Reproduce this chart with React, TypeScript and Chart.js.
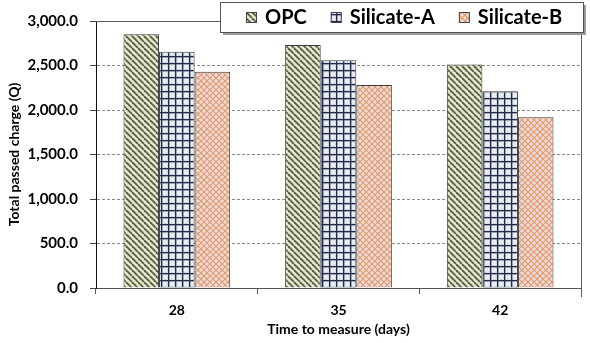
import React, { useEffect, useRef } from "react";
import { Chart, registerables } from "chart.js";

Chart.register(...registerables);

const categories = ["28", "35", "42"];
const seriesNames = ["OPC", "Silicate-A", "Silicate-B"];
const opcValues = [2850, 2730, 2510];
const silicateAValues = [2655, 2560, 2212];
const silicateBValues = [2430, 2280, 1918];
const yMin = 0;
const yMax = 3000;
const yStep = 500;
const xTitle = "Time to measure (days)";
const yTitle = "Total passed charge (Q)";

const FONT = "Lato, 'Open Sans', sans-serif";

function makeTile(size: number, draw: (c: CanvasRenderingContext2D, s: number) => void) {
  const cv = document.createElement("canvas");
  cv.width = size;
  cv.height = size;
  const c = cv.getContext("2d")!;
  draw(c, size);
  return cv;
}

function makePatterns(ctx: CanvasRenderingContext2D) {
  const stripes = makeTile(6, (c, s) => {
    c.fillStyle = "#e2e7cf";
    c.fillRect(0, 0, s, s);
    c.strokeStyle = "#56603f";
    c.lineWidth = 1.8;
    for (const x0 of [-s, 0, s]) {
      c.beginPath();
      c.moveTo(x0, 0);
      c.lineTo(x0 + s, s);
      c.stroke();
    }
  });
  const grid = makeTile(7, (c, s) => {
    c.fillStyle = "#d3d9e5";
    c.fillRect(0, 0, s, s);
    c.fillStyle = "#e9ecf2";
    c.fillRect(2, 2, 4, 4);
    c.fillStyle = "#232c45";
    c.fillRect(0, 0, s, 1.3);
    c.fillRect(0, 0, 1.3, s);
  });
  const cross = makeTile(6, (c, s) => {
    c.fillStyle = "#e5dbe0";
    c.fillRect(0, 0, s, s);
    c.strokeStyle = "#e89b66";
    c.lineWidth = 1.2;
    for (const x0 of [-s, 0, s]) {
      c.beginPath();
      c.moveTo(x0, 0);
      c.lineTo(x0 + s, s);
      c.stroke();
      c.beginPath();
      c.moveTo(x0 + s, 0);
      c.lineTo(x0, s);
      c.stroke();
    }
  });
  return [
    ctx.createPattern(stripes, "repeat")!,
    ctx.createPattern(grid, "repeat")!,
    ctx.createPattern(cross, "repeat")!,
  ];
}

const frameAndLegend = {
  id: "frameAndLegend",
  beforeDatasetsDraw(chart: any) {
    const { ctx, chartArea } = chart;
    ctx.save();
    ctx.strokeStyle = "#5a5a5a";
    ctx.lineWidth = 1;
    ctx.beginPath();
    ctx.moveTo(chartArea.left, chartArea.top + 0.5);
    ctx.lineTo(chartArea.right + 0.5, chartArea.top + 0.5);
    ctx.lineTo(chartArea.right + 0.5, chartArea.bottom + 9);
    ctx.stroke();
    ctx.restore();
  },
  afterDraw(chart: any) {
    const { ctx } = chart;
    const ds = chart.data.datasets;
    const bx = 220, by = 2, bw = 363, bh = 30;
    ctx.save();
    ctx.fillStyle = "#9a9a9a";
    ctx.fillRect(bx + 3, by + 3, bw, bh);
    ctx.fillStyle = "#ffffff";
    ctx.fillRect(bx, by, bw, bh);
    ctx.strokeStyle = "#555";
    ctx.lineWidth = 1;
    ctx.strokeRect(bx + 0.5, by + 0.5, bw, bh);
    ctx.font = `bold 20px ${FONT}`;
    ctx.textBaseline = "middle";
    ctx.textAlign = "left";
    let x = 246;
    const cy = by + bh / 2 + 1;
    ds.forEach((d: any) => {
      ctx.fillStyle = d.backgroundColor;
      ctx.fillRect(x, cy - 6, 11, 11);
      ctx.strokeStyle = "#444";
      ctx.strokeRect(x + 0.5, cy - 5.5, 10, 10);
      ctx.fillStyle = "#000";
      ctx.fillText(d.label, x + 19, cy);
      x += 19 + ctx.measureText(d.label).width + 24;
    });
    ctx.restore();
  },
};

export default function App() {
  const ref = useRef<HTMLCanvasElement>(null);
  useEffect(() => {
    document.body.style.margin = "0";
    const canvas = ref.current!;
    const ctx = canvas.getContext("2d")!;
    const patterns = makePatterns(ctx);
    const values = [opcValues, silicateAValues, silicateBValues];
    const chart = new Chart(canvas, {
      type: "bar",
      data: {
        labels: categories,
        datasets: seriesNames.map((name, i) => ({
          label: name,
          data: values[i],
          backgroundColor: patterns[i] as any,
          borderColor: "#3a3a3a",
          borderWidth: 1,
          barPercentage: 1,
          categoryPercentage: 0.66,
        })),
      },
      options: {
        animation: false,
        responsive: false,
        events: [],
        layout: { padding: { top: 17, right: 9, bottom: 0, left: 0 } },
        plugins: { legend: { display: false }, tooltip: { enabled: false } },
        scales: {
          x: {
            offset: true,
            grid: {
              offset: true,
              drawOnChartArea: false,
              tickLength: 6,
              color: "#555",
              tickColor: "#555",
            },
            border: { color: "#555", width: 1 },
            ticks: {
              color: "#000",
              font: { family: FONT, size: 14, weight: "bold" },
              padding: 8,
            },
            title: {
              display: true,
              text: xTitle,
              color: "#000",
              font: { family: FONT, size: 14, weight: "bold" },
              padding: { top: 0, bottom: 5 },
            },
            afterFit: (s: any) => {
              s.height = 55;
            },
          },
          y: {
            min: yMin,
            max: yMax,
            grid: {
              color: "#8a8a8a",
              tickColor: "#444",
              tickLength: 6,
              tickBorderDash: [],
            },
            border: { color: "#111", width: 1, dash: [3, 2] },
            ticks: {
              stepSize: yStep,
              color: "#000",
              font: { family: FONT, size: 15, weight: "bold" },
              padding: 12,
              callback: (v: any) =>
                Number(v).toLocaleString("en-US", {
                  minimumFractionDigits: 1,
                  maximumFractionDigits: 1,
                }),
            },
            title: {
              display: true,
              text: yTitle,
              color: "#000",
              font: { family: FONT, size: 14, weight: "bold" },
              padding: { top: 6, bottom: 0 },
            },
            afterFit: (s: any) => {
              s.width = 96;
            },
          },
        },
      },
      plugins: [frameAndLegend],
    });
    return () => chart.destroy();
  }, []);
  return (
    <div style={{ width: 590, height: 343, background: "#fff" }}>
      <canvas ref={ref} width={590} height={343} />
    </div>
  );
}
